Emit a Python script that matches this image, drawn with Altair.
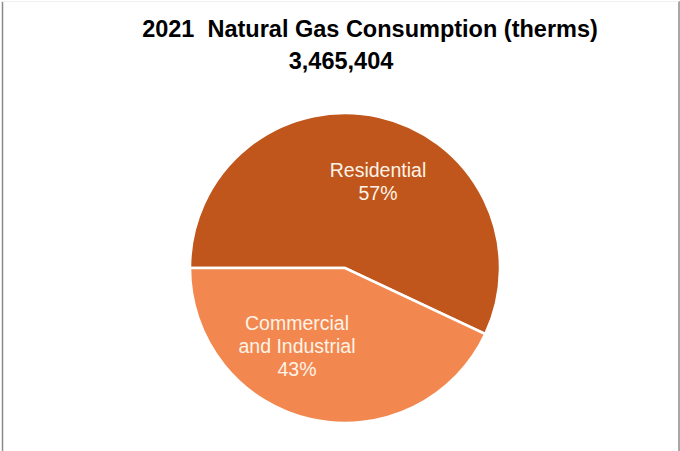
import altair as alt
import pandas as pd

categories = ["Residential", "Commercial and Industrial"]
shares = [57, 43]
label_lines = [["Residential", "57%"], ["Commercial", "and Industrial", "43%"]]
colors = ["#C0561B", "#F2884F"]
title_line1 = "2021\u00a0 Natural Gas Consumption (therms)"
title_line2 = "3,465,404"

df = pd.DataFrame({"category": categories, "share": shares, "order": [0, 1]})
lab = pd.DataFrame({"category": categories, "label": label_lines,
                    "lx": [378, 297], "ly": [170, 323]})

W, H = 680, 451
CX, CY, R = 345, 267, 155
start = 3 * 3.141592653589793 / 2

pie = alt.Chart(df).mark_arc(radius=R, stroke="white", strokeWidth=2.5).encode(
    theta=alt.Theta("share:Q", stack=True,
                    scale=alt.Scale(range=[start, start + 2 * 3.141592653589793])),
    color=alt.Color("category:N", sort=categories,
                    scale=alt.Scale(domain=categories, range=colors), legend=None),
    order=alt.Order("order:Q"),
    x=alt.value(CX), y=alt.value(CY),
)

labels = alt.Chart(lab).mark_text(
    font="Liberation Sans", fontSize=19.5, color="#FFF3E8",
    baseline="middle", align="center", lineHeight=23,
).encode(
    text="label", x=alt.X("lx:Q", scale=None), y=alt.Y("ly:Q", scale=None)
)

t1 = alt.Chart(pd.DataFrame({"t": [title_line1]})).mark_text(
    font="Liberation Sans", fontSize=23.5, fontWeight="bold", color="#000000",
    baseline="alphabetic", align="center",
).encode(text="t", x=alt.value(370), y=alt.value(36))

t2 = alt.Chart(pd.DataFrame({"t": [title_line2]})).mark_text(
    font="Liberation Sans", fontSize=23.5, fontWeight="bold", color="#000000",
    baseline="alphabetic", align="center",
).encode(text="t", x=alt.value(341), y=alt.value(68))

border_l = alt.Chart(pd.DataFrame({"a": [0]})).mark_rule(color="#8a8a8a", strokeWidth=1.5).encode(
    x=alt.value(2.5), y=alt.value(0), y2=alt.value(451))
border_r = alt.Chart(pd.DataFrame({"a": [0]})).mark_rule(color="#8a8a8a", strokeWidth=1.5).encode(
    x=alt.value(679), y=alt.value(0), y2=alt.value(451))
border_b = alt.Chart(pd.DataFrame({"a": [0]})).mark_rule(color="#d8d8d8", strokeWidth=1).encode(
    x=alt.value(2), x2=alt.value(679), y=alt.value(450.5))
border_t = alt.Chart(pd.DataFrame({"a": [0]})).mark_rule(color="#f0f0f0", strokeWidth=1).encode(
    x=alt.value(2), x2=alt.value(679), y=alt.value(0.5))

chart = alt.layer(pie, labels, t1, t2, border_l, border_r, border_b, border_t).properties(
    width=W, height=H, padding=0,
    autosize=alt.AutoSizeParams(type="fit", contains="padding"),
    background="white",
).configure_view(stroke=None)

chart.save("out.html", embed_options={"renderer": "svg", "actions": False})
